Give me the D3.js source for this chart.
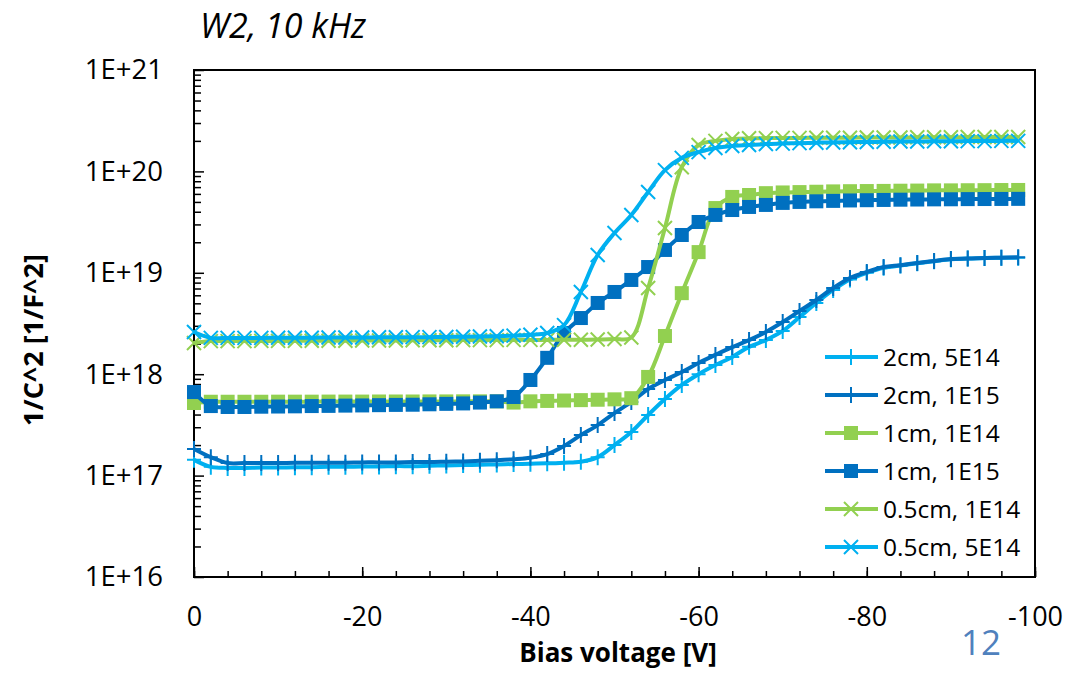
<!DOCTYPE html>
<html>
<head>
<meta charset="utf-8">
<script src="https://cdn.jsdelivr.net/npm/d3@7"></script>
<style>
    body { margin: 0; background: #fff; }
    text { font-family: "Open Sans", sans-serif; }
</style>
</head>
<body>
<div id="chart-area"></div>
<script>
// bias voltage points (V)
let volts = [0, -2, -4, -6, -8, -10, -12, -14, -16, -18,
    -20, -22, -24, -26, -28, -30, -32, -34, -36, -38,
    -40, -42, -44, -46, -48, -50, -52, -54, -56, -58,
    -60, -62, -64, -66, -68, -70, -72, -74, -76, -78,
    -80, -82, -84, -86, -88, -90, -92, -94, -96, -98];

// 1/C^2 values per sample
let s2cm5e14 = [1.43e17, 1.22e17, 1.19e17, 1.19e17, 1.2e17, 1.2e17, 1.21e17, 1.21e17, 1.22e17, 1.22e17,
    1.23e17, 1.23e17, 1.24e17, 1.24e17, 1.25e17, 1.26e17, 1.27e17, 1.28e17, 1.29e17, 1.3e17,
    1.31e17, 1.32e17, 1.34e17, 1.37e17, 1.52e17, 2.0e17, 2.69e17, 3.96e17, 5.69e17, 7.83e17,
    1.0e18, 1.23e18, 1.48e18, 1.86e18, 2.17e18, 2.67e18, 3.66e18, 5.04e18, 6.77e18, 8.6e18,
    1.0e19, 1.12e19, 1.18e19, 1.24e19, 1.3e19, 1.36e19, 1.38e19, 1.4e19, 1.41e19, 1.41e19];

let s2cm1e15 = [1.83e17, 1.52e17, 1.33e17, 1.33e17, 1.33e17, 1.33e17, 1.34e17, 1.34e17, 1.34e17, 1.34e17,
    1.35e17, 1.35e17, 1.35e17, 1.36e17, 1.36e17, 1.37e17, 1.38e17, 1.4e17, 1.42e17, 1.45e17,
    1.5e17, 1.63e17, 1.96e17, 2.51e17, 3.15e17, 4.14e17, 5.32e17, 7.15e17, 8.77e17, 1.05e18,
    1.29e18, 1.55e18, 1.85e18, 2.17e18, 2.61e18, 3.27e18, 4.2e18, 5.39e18, 7.08e18, 8.89e18,
    1.02e19, 1.14e19, 1.19e19, 1.25e19, 1.31e19, 1.37e19, 1.38e19, 1.4e19, 1.41e19, 1.42e19];

let s1cm1e14 = [5.2e17, 5.35e17, 5.35e17, 5.35e17, 5.35e17, 5.36e17, 5.36e17, 5.36e17, 5.37e17, 5.37e17,
    5.37e17, 5.38e17, 5.38e17, 5.38e17, 5.39e17, 5.39e17, 5.4e17, 5.4e17, 5.4e17, 5.25e17,
    5.4e17, 5.45e17, 5.5e17, 5.55e17, 5.6e17, 5.65e17, 5.8e17, 9.4e17, 2.38e18, 6.3e18,
    1.6e19, 4.35e19, 5.6e19, 5.85e19, 6.1e19, 6.2e19, 6.25e19, 6.3e19, 6.35e19, 6.38e19,
    6.4e19, 6.42e19, 6.45e19, 6.47e19, 6.5e19, 6.5e19, 6.52e19, 6.53e19, 6.55e19, 6.56e19];

let s1cm1e15 = [6.67e17, 4.85e17, 4.75e17, 4.75e17, 4.78e17, 4.8e17, 4.82e17, 4.85e17, 4.87e17, 4.9e17,
    4.92e17, 4.95e17, 4.98e17, 5.0e17, 5.05e17, 5.1e17, 5.15e17, 5.25e17, 5.4e17, 5.96e17,
    8.77e17, 1.45e18, 2.55e18, 3.58e18, 5.04e18, 6.47e18, 8.5e18, 1.14e19, 1.68e19, 2.36e19,
    3.17e19, 3.72e19, 4.16e19, 4.46e19, 4.67e19, 4.89e19, 5.0e19, 5.07e19, 5.12e19, 5.17e19,
    5.2e19, 5.23e19, 5.26e19, 5.28e19, 5.3e19, 5.31e19, 5.33e19, 5.34e19, 5.35e19, 5.36e19];

let s05cm1e14 = [2.03e18, 2.12e18, 2.12e18, 2.12e18, 2.13e18, 2.13e18, 2.13e18, 2.14e18, 2.14e18, 2.14e18,
    2.15e18, 2.15e18, 2.15e18, 2.16e18, 2.16e18, 2.16e18, 2.17e18, 2.17e18, 2.17e18, 2.18e18,
    2.18e18, 2.18e18, 2.19e18, 2.19e18, 2.2e18, 2.22e18, 2.3e18, 7.08e18, 2.77e19, 1.1e20,
    1.82e20, 2.0e20, 2.09e20, 2.12e20, 2.13e20, 2.14e20, 2.14e20, 2.15e20, 2.15e20, 2.15e20,
    2.16e20, 2.16e20, 2.16e20, 2.17e20, 2.17e20, 2.17e20, 2.18e20, 2.18e20, 2.18e20, 2.18e20];

let s05cm5e14 = [2.61e18, 2.28e18, 2.28e18, 2.28e18, 2.28e18, 2.29e18, 2.29e18, 2.29e18, 2.3e18, 2.3e18,
    2.3e18, 2.31e18, 2.31e18, 2.32e18, 2.32e18, 2.33e18, 2.34e18, 2.35e18, 2.37e18, 2.4e18,
    2.45e18, 2.55e18, 3.05e18, 6.47e18, 1.5e19, 2.47e19, 3.72e19, 6.27e19, 1.03e20, 1.36e20,
    1.55e20, 1.7e20, 1.78e20, 1.82e20, 1.86e20, 1.88e20, 1.9e20, 1.92e20, 1.93e20, 1.94e20,
    1.95e20, 1.96e20, 1.97e20, 1.97e20, 1.98e20, 1.98e20, 1.99e20, 1.99e20, 2.0e20, 2.0e20];

let seriesNames = ["2cm, 5E14", "2cm, 1E15", "1cm, 1E14", "1cm, 1E15", "0.5cm, 1E14", "0.5cm, 5E14"];
let seriesValues = [s2cm5e14, s2cm1e15, s1cm1e14, s1cm1e15, s05cm1e14, s05cm5e14];
let seriesColors = ["#00b0f0", "#0070c0", "#92d050", "#0070c0", "#92d050", "#00b0f0"];
let seriesMarkers = ["plus", "plus", "square", "square", "cross", "cross"];

let xTicks = [0, -20, -40, -60, -80, -100];
let yTicks = [1e16, 1e17, 1e18, 1e19, 1e20, 1e21];
let yTickLabels = ["1E+16", "1E+17", "1E+18", "1E+19", "1E+20", "1E+21"];

let width = 1073,
    height = 673;
let plot = {left: 194, right: 1035, top: 70, bottom: 577};

let svg = d3.select("#chart-area")
    .append("svg")
    .attr("width", width)
    .attr("height", height);

let x = d3.scaleLinear()
    .domain([0, -100])
    .range([plot.left, plot.right]);

let y = d3.scaleLog()
    .domain([1e16, 1e21])
    .range([plot.bottom, plot.top]);

// minor ticks (inside)
let xMinor = d3.range(0, -101, -4);
svg.append("g")
    .attr("transform", "translate(0," + plot.bottom + ")")
    .call(d3.axisBottom(x).tickValues(xMinor).tickSize(-6).tickFormat(""))
    .call(g => g.select(".domain").remove())
    .selectAll("line").attr("stroke", "#000").attr("stroke-width", 1.5);

let yMinor = [];
for (let e = 16; e < 21; e++) {
    for (let k = 2; k <= 9; k++) yMinor.push(k * Math.pow(10, e));
}
svg.append("g")
    .attr("transform", "translate(" + plot.left + ",0)")
    .call(d3.axisLeft(y).tickValues(yMinor).tickSize(-7).tickFormat(""))
    .call(g => g.select(".domain").remove())
    .selectAll("line").attr("stroke", "#000").attr("stroke-width", 1.5);

// major ticks + labels
let xAxis = svg.append("g")
    .attr("transform", "translate(0," + plot.bottom + ")")
    .call(d3.axisBottom(x).tickValues(xTicks).tickSize(-10).tickPadding(30)
        .tickFormat(d => d === 0 ? "0" : String(d)));
xAxis.select(".domain").remove();
xAxis.selectAll("line").attr("stroke", "#000").attr("stroke-width", 1.5);
xAxis.selectAll("text")
    .attr("font-size", 27)
    .attr("fill", "#000")
    .style("font-family", "'Open Sans', sans-serif");

let yAxis = svg.append("g")
    .attr("transform", "translate(" + plot.left + ",0)")
    .call(d3.axisLeft(y).tickValues(yTicks).tickSize(-10).tickPadding(31)
        .tickFormat((d, i) => yTickLabels[i]));
yAxis.select(".domain").remove();
yAxis.selectAll("line").attr("stroke", "#000").attr("stroke-width", 1.5);
yAxis.selectAll("text")
    .attr("font-size", 27.5)
    .attr("fill", "#000")
    .style("font-family", "'Open Sans', sans-serif");

// plot frame
svg.append("rect")
    .attr("x", plot.left)
    .attr("y", plot.top)
    .attr("width", plot.right - plot.left)
    .attr("height", plot.bottom - plot.top)
    .attr("fill", "none")
    .attr("stroke", "#000")
    .attr("stroke-width", 2);

let line = d3.line()
    .x((d, i) => x(volts[i]))
    .y(d => y(d))
    .curve(d3.curveCatmullRom.alpha(0.5));

function drawMarker(g, type, color, cx, cy) {
    if (type === "square") {
        g.append("rect")
            .attr("x", cx - 7).attr("y", cy - 7)
            .attr("width", 14).attr("height", 14)
            .attr("fill", color);
    } else if (type === "plus") {
        g.append("path")
            .attr("d", "M" + (cx - 7) + "," + cy + "H" + (cx + 7) + "M" + cx + "," + (cy - 8) + "V" + (cy + 8))
            .attr("stroke", color).attr("stroke-width", 2).attr("fill", "none");
    } else {
        g.append("path")
            .attr("d", "M" + (cx - 7) + "," + (cy - 7) + "L" + (cx + 7) + "," + (cy + 7) +
                "M" + (cx - 7) + "," + (cy + 7) + "L" + (cx + 7) + "," + (cy - 7))
            .attr("stroke", color).attr("stroke-width", 2).attr("fill", "none");
    }
}

seriesValues.forEach(function (vals, s) {
    let g = svg.append("g");
    g.append("path")
        .attr("d", line(vals))
        .attr("fill", "none")
        .attr("stroke", seriesColors[s])
        .attr("stroke-width", 4)
        .attr("stroke-linejoin", "round");
    vals.forEach(function (v, i) {
        drawMarker(g, seriesMarkers[s], seriesColors[s], x(volts[i]), y(v));
    });
});

// legend
let legend = svg.append("g");
seriesNames.forEach(function (name, i) {
    let ly = 357 + i * 38;
    legend.append("line")
        .attr("x1", 825).attr("x2", 878)
        .attr("y1", ly).attr("y2", ly)
        .attr("stroke", seriesColors[i])
        .attr("stroke-width", 4);
    drawMarker(legend, seriesMarkers[i], seriesColors[i], 851, ly);
    legend.append("text")
        .attr("x", 883)
        .attr("y", ly)
        .attr("dy", "0.35em")
        .attr("font-size", 24.5)
        .text(name);
});

// titles
svg.append("text")
    .attr("x", 200)
    .attr("y", 38)
    .attr("font-size", 34)
    .attr("font-style", "italic")
    .text("W2, 10 kHz");

svg.append("text")
    .attr("transform", "translate(43,340) rotate(-90)")
    .attr("text-anchor", "middle")
    .attr("font-size", 27)
    .attr("font-weight", "bold")
    .text("1/C^2 [1/F^2]");

svg.append("text")
    .attr("x", 618)
    .attr("y", 662)
    .attr("text-anchor", "middle")
    .attr("font-size", 26)
    .attr("font-weight", "bold")
    .text("Bias voltage [V]");

svg.append("text")
    .attr("x", 981)
    .attr("y", 655)
    .attr("text-anchor", "middle")
    .attr("font-size", 35)
    .attr("fill", "#4f81bd")
    .text("12");
</script>
</body>
</html>
